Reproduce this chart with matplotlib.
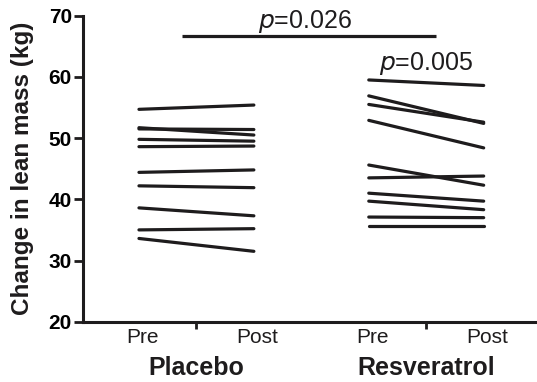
import matplotlib
matplotlib.use("Agg")
import matplotlib.pyplot as plt
import matplotlib.transforms as mtransforms

plt.rcParams['font.family'] = ['Liberation Sans', 'DejaVu Sans']

# Data (kg)
placebo_pre = [54.7, 51.7, 51.5, 49.8, 48.6, 44.4, 42.2, 38.6, 35.0, 33.6]
placebo_post = [55.4, 50.5, 51.4, 49.5, 48.7, 44.8, 41.9, 37.3, 35.2, 31.5]
resv_pre = [59.5, 56.9, 55.5, 52.9, 45.6, 43.5, 41.0, 39.7, 37.1, 35.7]
resv_post = [58.6, 52.4, 52.6, 48.4, 42.3, 43.8, 39.7, 38.3, 37.0, 35.7]

time_labels = ["Pre", "Post", "Pre", "Post"]
group_labels = ["Placebo", "Resveratrol"]
yticks = [20, 30, 40, 50, 60, 70]
p_between = "$\\it{p}$=0.026"
p_within = "$\\it{p}$=0.005"

W, H = 537, 382
fig = plt.figure(figsize=(W / 100, H / 100), dpi=100)
ax = fig.add_axes([83 / W, 1 - 321.7 / H, (W - 83) / W, 306 / H])

col = '#1e1c1d'
xpos = [1, 2, 3, 4]
for a, b in zip(placebo_pre, placebo_post):
    ax.plot([xpos[0], xpos[1]], [a, b], color=col, lw=2.3, solid_capstyle='round')
for a, b in zip(resv_pre, resv_post):
    ax.plot([xpos[2], xpos[3]], [a, b], color=col, lw=2.3, solid_capstyle='round')

ax.set_xlim(0.513, 4.464)
ax.set_ylim(20, 70)
ax.set_yticks(yticks)
ax.set_yticklabels([str(t) for t in yticks], fontsize=15, fontweight='bold')
ax.set_xticks([1.5, 3.5])
ax.set_xticklabels([])
for s in ['top', 'right']:
    ax.spines[s].set_visible(False)
for s in ['left', 'bottom']:
    ax.spines[s].set_linewidth(2.2)
    ax.spines[s].set_color(col)
    ax.spines[s].set_capstyle('projecting')
ax.tick_params(axis='y', length=6.5, width=2.0, pad=1.5, color=col)
ax.tick_params(axis='x', length=5, width=2.0, color=col)

trans = mtransforms.blended_transform_factory(ax.transData, ax.transAxes)
for x, lab in zip(xpos, time_labels):
    ax.text(x + 0.03, -0.071, lab, transform=trans, ha='center', va='baseline',
            fontsize=15, color=col)
for x, lab in zip([1.5, 3.5], group_labels):
    ax.text(x, -0.174, lab, transform=trans, ha='center', va='baseline',
            fontsize=18, fontweight='bold', color=col)

# significance bracket & p-values
ax.plot([1.374, 3.585], [66.7, 66.7], color=col, lw=2.3, clip_on=False,
        solid_capstyle='butt')
ax.text(2.445, 68.0, p_between, ha='center', va='baseline', fontsize=18,
        color=col, clip_on=False)
ax.text(3.5, 61.1, p_within, ha='center', va='baseline', fontsize=18,
        color=col, clip_on=False)

fig.text(23 / W, 1 - 168.5 / H, "Change in lean mass (kg)", rotation=90,
         ha='center', va='center', fontsize=17.5, fontweight='bold', color=col)

fig.savefig("out.png", dpi=100)
